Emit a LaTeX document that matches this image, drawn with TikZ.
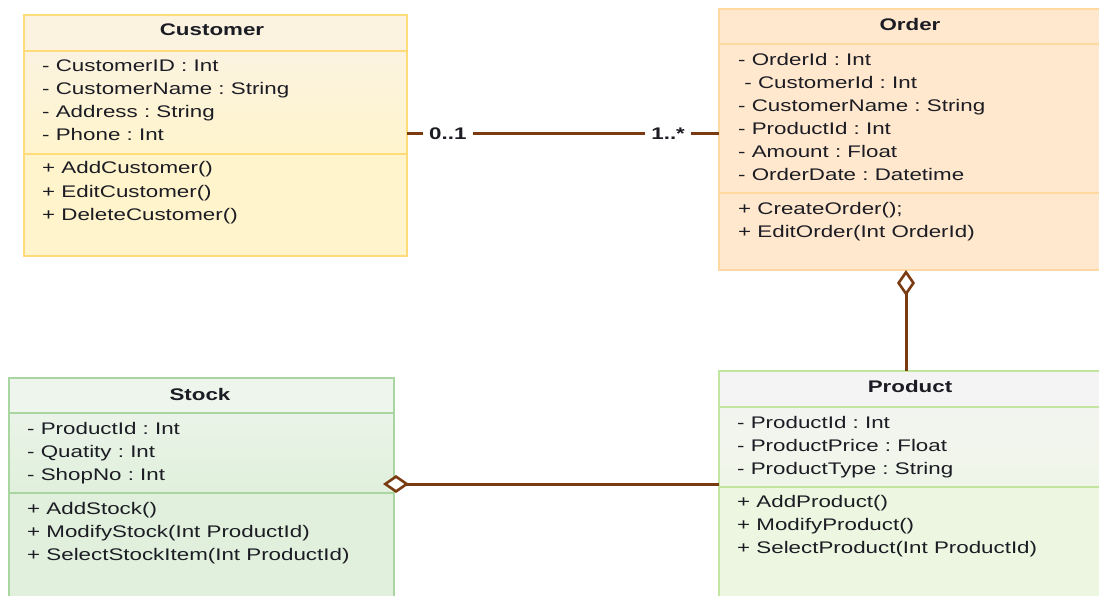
\documentclass[tikz,border=0pt]{standalone}
\usepackage{fontspec}
\setmainfont[FakeStretch=1.33]{Liberation Sans}
\usetikzlibrary{arrows.meta}
\frenchspacing

\definecolor{ink}{RGB}{28,28,36}
\definecolor{linkc}{RGB}{122,58,18}
\definecolor{custline}{HTML}{FFDB7A}
\definecolor{custhead}{HTML}{FBF3E0}
\definecolor{custbody}{HTML}{FFF4CC}
\definecolor{ordline}{HTML}{FFD9A0}
\definecolor{ordbody}{HTML}{FFE8CD}
\definecolor{stkline}{HTML}{A8D5A0}
\definecolor{stkhead}{HTML}{EEF5EC}
\definecolor{stkbody}{HTML}{E0F0DC}
\definecolor{prdline}{HTML}{C2E5A0}
\definecolor{prdhead}{HTML}{F4F4F4}
\definecolor{prdbody}{HTML}{EDF6E0}

\tikzset{
  comp/.style={draw, line width=2.5pt, anchor=north west, inner sep=0pt, outer sep=0pt},
  member/.style={anchor=west, inner sep=0pt, text height=12pt, text depth=0pt,
    font=\fontsize{16.8}{20}\selectfont, text=ink},
  title/.style={member, anchor=center, font=\fontsize{16.8}{20}\selectfont\bfseries},
  link/.style={draw=linkc, line width=3pt},
  mult/.style={fill=white, inner xsep=6pt, inner ysep=1pt, text=ink,
    font=\fontsize{16.8}{20}\selectfont\bfseries},
  agg/.style={{Diamond[fill=white,length=26pt,width=18pt,line width=2.6pt]}-}
}

\begin{document}
\begin{tikzpicture}[x=1pt,y=-1pt]
\useasboundingbox (0,0) rectangle (1099,596);
\clip (0,0) rectangle (1099,596);

% Customer
\node[comp, draw=custline, fill=custhead, minimum width=383pt, minimum height=36pt] (custH) at (24,15) {};
\node[comp, draw=custline, top color=custhead, bottom color=custbody, minimum width=383pt, minimum height=103pt] (custA) at (24,51) {};
\node[comp, draw=custline, fill=custbody, minimum width=383pt, minimum height=102pt] (custM) at (24,154) {};
\node[title] (custT) at (212,30) {Customer};
\foreach \t [count=\i from 0] in {- CustomerID : Int, - CustomerName : String, - Address : String, - Phone : Int}
  \node[member] (custa\i) at (42,66+23*\i) {\t};
\foreach \t [count=\i from 0] in {+ AddCustomer(), + EditCustomer(), + DeleteCustomer()}
  \node[member] (custm\i) at (42,168+23*\i) {\t};

% Order
\node[comp, draw=ordline, fill=ordbody, minimum width=384pt, minimum height=35pt] (ordH) at (719,9) {};
\node[comp, draw=ordline, fill=ordbody, minimum width=384pt, minimum height=149pt] (ordA) at (719,44) {};
\node[comp, draw=ordline, fill=ordbody, minimum width=384pt, minimum height=77pt] (ordM) at (719,193) {};
\node[title] (ordT) at (910,25) {Order};
\foreach \t [count=\i from 0] in {- OrderId : Int, \ - CustomerId : Int, - CustomerName : String, - ProductId : Int, - Amount : Float, - OrderDate : Datetime}
  \node[member] (orda\i) at (738,60+23*\i) {\t};
\foreach \t [count=\i from 0] in {{+ CreateOrder();}, + EditOrder(Int OrderId)}
  \node[member] (ordm\i) at (738,208+23*\i) {\t};

% Stock
\node[comp, draw=stkline, fill=stkhead, minimum width=385pt, minimum height=35pt] (stkH) at (9,378) {};
\node[comp, draw=stkline, top color=stkhead!70!stkbody, bottom color=stkbody, minimum width=385pt, minimum height=80pt] (stkA) at (9,413) {};
\node[comp, draw=stkline, fill=stkbody, minimum width=385pt, minimum height=130pt] (stkM) at (9,493) {};
\node[title] (stkT) at (200,394) {Stock};
\foreach \t [count=\i from 0] in {- ProductId : Int, - Quatity : Int, - ShopNo : Int}
  \node[member] (stka\i) at (27,428+23*\i) {\t};
\foreach \t [count=\i from 0] in {+ AddStock(), + ModifyStock(Int ProductId), + SelectStockItem(Int ProductId)}
  \node[member] (stkm\i) at (27,508+23*\i) {\t};

% Product
\node[comp, draw=prdline, fill=prdhead, minimum width=384pt, minimum height=36pt] (prdH) at (719,371) {};
\node[comp, draw=prdline, top color=prdhead!80!prdbody, bottom color=prdhead!40!prdbody, minimum width=384pt, minimum height=80pt] (prdA) at (719,407) {};
\node[comp, draw=prdline, fill=prdbody, minimum width=384pt, minimum height=130pt] (prdM) at (719,487) {};
\node[title] (prdT) at (910,386) {Product};
\foreach \t [count=\i from 0] in {- ProductId : Int, - ProductPrice : Float, - ProductType : String}
  \node[member] (prda\i) at (737,422+23*\i) {\t};
\foreach \t [count=\i from 0] in {+ AddProduct(), + ModifyProduct(), + SelectProduct(Int ProductId)}
  \node[member] (prdm\i) at (737,501+23*\i) {\t};

% associations
\coordinate (assoc) at (0,134);
\coordinate (stocklink) at (0,484);
\draw[link] (custA.east |- assoc) -- node[mult, pos=0.131] (m01) {0..1}
  node[mult, pos=0.837] (m1n) {1..*} (ordA.west |- assoc);
\draw[link, agg] ([xshift=-5pt]ordM.south) -- ([xshift=-5pt]prdH.north);
\draw[link, agg, shorten <=-11pt] (stkA.east |- stocklink) -- (prdA.west |- stocklink);
\end{tikzpicture}
\end{document}
